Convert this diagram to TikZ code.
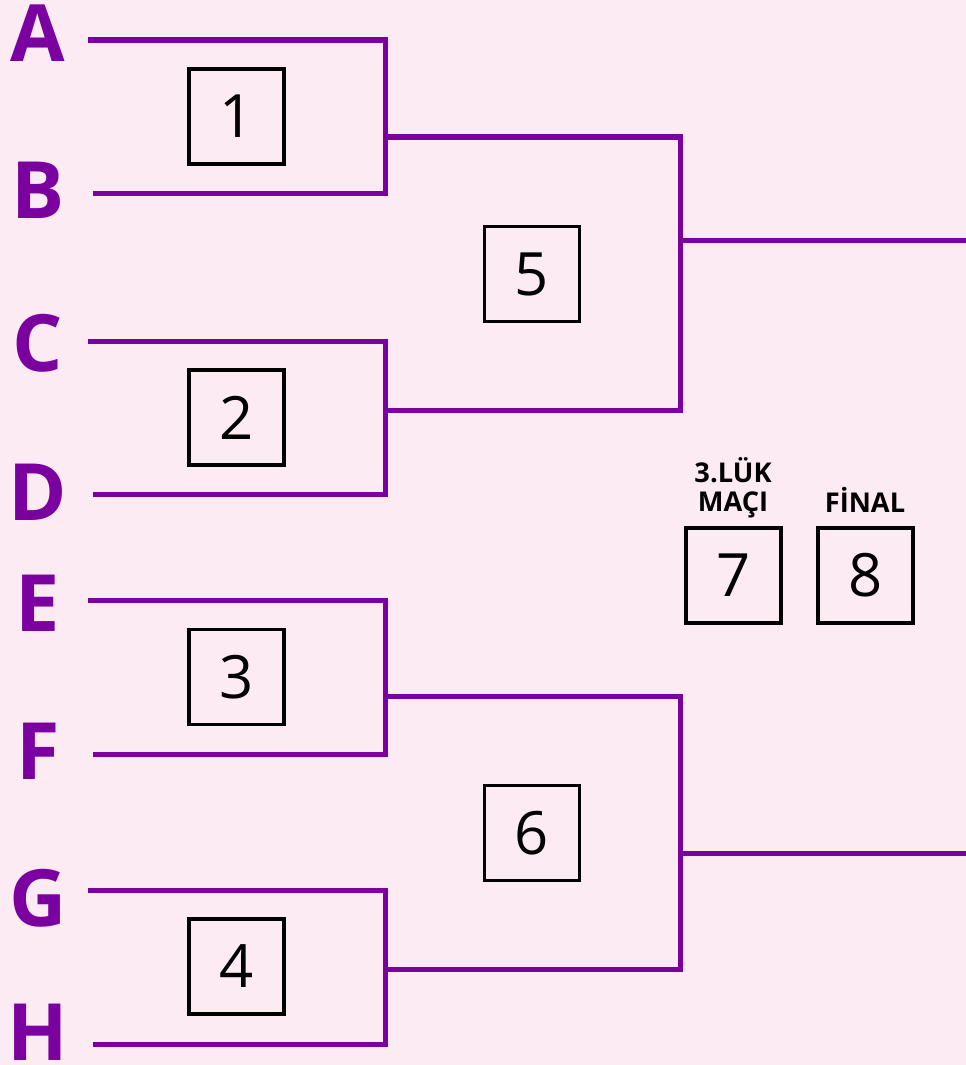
\documentclass[tikz,border=0pt]{standalone}
\usepackage{fontspec}
\setmainfont{Open Sans}
\usetikzlibrary{positioning}
\definecolor{BRpurple}{HTML}{7A00A0}
\definecolor{BRpink}{HTML}{FDEBF3}

\begin{document}
\begin{tikzpicture}[x=0.02cm,y=-0.02cm,
    team/.style={anchor=base,inner sep=0pt,text=BRpurple,
      font=\fontsize{45}{45}\selectfont\bfseries},
    match/.style={draw=black,line width=2pt,minimum size=1.9cm,
      inner sep=0pt,font=\fontsize{34}{34}\selectfont},
    title/.style={anchor=base,inner sep=0pt,align=center,
      font=\fontsize{15.5}{16}\selectfont\bfseries},
    wire/.style={draw=BRpurple,line width=2.85pt}]
  \fill[BRpink] (0,0) rectangle (966,1065);
  \useasboundingbox (0,0) rectangle (966,1065);
  % teams
  \node[team] (A) at (38,61) {A};
  \node[team] (B) at (38,218) {B};
  \node[team] (C) at (38,371) {C};
  \node[team] (D) at (38,520) {D};
  \node[team] (E) at (38,631) {E};
  \node[team] (F) at (38,779) {F};
  \node[team] (G) at (38,926) {G};
  \node[team] (H) at (38,1060) {H};
  % line ends
  \coordinate (a) at (88,40);
  \coordinate (b) at (93,193);
  \coordinate (c) at (88,341);
  \coordinate (d) at (93,494);
  \coordinate (e) at (88,600);
  \coordinate (f) at (93,754);
  \coordinate (g) at (88,890);
  \coordinate (h) at (93,1044);
  \coordinate (w1) at (385,137);
  \coordinate (w2) at (385,410);
  \coordinate (w3) at (385,696);
  \coordinate (w4) at (385,969);
  \coordinate (w5) at (966,240);
  \coordinate (w6) at (966,853);
  % first round
  \draw[wire] (a) -| (w1 |- b) -- (b);
  \draw[wire] (c) -| (w2 |- d) -- (d);
  \draw[wire] (e) -| (w3 |- f) -- (f);
  \draw[wire] (g) -| (w4 |- h) -- (h);
  % second round
  \draw[wire] (w1) -| (680,410) -- (w2);
  \draw[wire] (w3) -| (680,969) -- (w4);
  \draw[wire] (680,240) -- (w5);
  \draw[wire] (680,853) -- (w6);
  % matches
  \node[match] (m1) at (236.5,116.5) {1};
  \node[match] (m2) at (236.5,417.5) {2};
  \node[match] (m3) at (236.5,677) {3};
  \node[match] (m4) at (236.5,966.5) {4};
  \node[match] (m5) at (532,274) {5};
  \node[match] (m6) at (532,833) {6};
  \node[match] (m7) at (733.5,575.5) {7};
  \node[match] (m8) at (865.5,575.5) {8};
  \node[title] (t7) at (733,511) {3.LÜK\\MAÇI};
  \node[title] (t8) at (865,512) {FİNAL};
\end{tikzpicture}
\end{document}
